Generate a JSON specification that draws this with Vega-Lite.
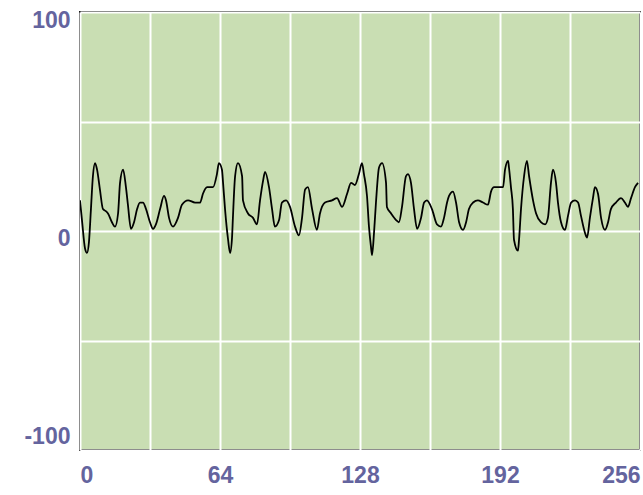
{
  "$schema": "https://vega.github.io/schema/vega-lite/v6.json",
  "width": 560,
  "height": 438,
  "autosize": "none",
  "padding": {"left": 80, "top": 12, "right": 3, "bottom": 45},
  "background": "white",
  "config": {
    "view": {"fill": "#c9deb3", "stroke": "#1a1a1a", "strokeWidth": 2},
    "axis": {
      "grid": true,
      "gridColor": "white",
      "gridWidth": 2,
      "gridOpacity": 1,
      "domain": false,
      "ticks": false,
      "labelFont": "Liberation Sans",
      "labelFontWeight": "bold",
      "labelFontSize": 23,
      "labelColor": "#64649e",
      "title": null
    }
  },
  "data": {
    "values": [
      {"x": 0, "y": 14}, {"x": 0.9, "y": 5}, {"x": 2.3, "y": -8}, {"x": 3.2, "y": -10}, {"x": 4.1, "y": -5},
      {"x": 5.0, "y": 10}, {"x": 5.9, "y": 25}, {"x": 6.9, "y": 31}, {"x": 7.8, "y": 28}, {"x": 9.1, "y": 19},
      {"x": 10.5, "y": 10}, {"x": 11.9, "y": 9}, {"x": 12.8, "y": 8}, {"x": 14.6, "y": 4}, {"x": 16.0, "y": 2},
      {"x": 17.4, "y": 8}, {"x": 18.3, "y": 22}, {"x": 19.7, "y": 28}, {"x": 21.0, "y": 20}, {"x": 21.9, "y": 12},
      {"x": 23.3, "y": 1}, {"x": 24.7, "y": 4}, {"x": 26.1, "y": 10}, {"x": 27.4, "y": 13}, {"x": 28.8, "y": 13},
      {"x": 30.2, "y": 10}, {"x": 32.0, "y": 4}, {"x": 33.4, "y": 1}, {"x": 34.7, "y": 3}, {"x": 36.6, "y": 10},
      {"x": 38.4, "y": 16}, {"x": 39.3, "y": 14}, {"x": 40.7, "y": 6}, {"x": 42.5, "y": 2}, {"x": 44.8, "y": 6},
      {"x": 46.6, "y": 12}, {"x": 49.4, "y": 14}, {"x": 52.6, "y": 13}, {"x": 54.9, "y": 13}, {"x": 56.2, "y": 17},
      {"x": 58.1, "y": 20}, {"x": 60.8, "y": 20}, {"x": 62.6, "y": 26}, {"x": 63.5, "y": 31}, {"x": 64.9, "y": 28},
      {"x": 65.4, "y": 22}, {"x": 66.3, "y": 10}, {"x": 67.7, "y": -4}, {"x": 68.6, "y": -10}, {"x": 69.5, "y": -3},
      {"x": 69.9, "y": 6}, {"x": 70.9, "y": 25}, {"x": 72.2, "y": 31}, {"x": 74.1, "y": 25}, {"x": 74.5, "y": 14},
      {"x": 76.8, "y": 8}, {"x": 79.1, "y": 6}, {"x": 80.9, "y": 3}, {"x": 82.3, "y": 14}, {"x": 83.7, "y": 23},
      {"x": 84.6, "y": 27}, {"x": 86.4, "y": 20}, {"x": 87.8, "y": 10}, {"x": 89.1, "y": 2}, {"x": 91.0, "y": 5},
      {"x": 92.3, "y": 13}, {"x": 94.2, "y": 14}, {"x": 96.0, "y": 11}, {"x": 98.3, "y": 2}, {"x": 100.1, "y": -2},
      {"x": 101.5, "y": 6}, {"x": 102.9, "y": 19}, {"x": 104.2, "y": 20}, {"x": 106.1, "y": 10}, {"x": 108.3, "y": 0.5},
      {"x": 109.7, "y": 8}, {"x": 112.0, "y": 13}, {"x": 115.2, "y": 14}, {"x": 117.5, "y": 15}, {"x": 119.8, "y": 11},
      {"x": 122.1, "y": 17}, {"x": 123.9, "y": 22}, {"x": 125.7, "y": 21}, {"x": 127.5, "y": 26}, {"x": 128.9, "y": 31},
      {"x": 129.8, "y": 26}, {"x": 131.2, "y": 16}, {"x": 132.1, "y": 2}, {"x": 133.0, "y": -7}, {"x": 133.5, "y": -11},
      {"x": 134.4, "y": -1}, {"x": 135.3, "y": 13}, {"x": 136.7, "y": 29}, {"x": 138.1, "y": 31}, {"x": 139.9, "y": 22},
      {"x": 140.3, "y": 11}, {"x": 142.2, "y": 8}, {"x": 144.5, "y": 5}, {"x": 145.8, "y": 4}, {"x": 147.2, "y": 11},
      {"x": 149.0, "y": 25}, {"x": 149.9, "y": 26}, {"x": 151.3, "y": 22}, {"x": 152.7, "y": 10}, {"x": 154.1, "y": 1},
      {"x": 155.9, "y": 6}, {"x": 157.3, "y": 13}, {"x": 158.6, "y": 14}, {"x": 160.9, "y": 10}, {"x": 163.2, "y": 3},
      {"x": 165.0, "y": 2}, {"x": 166.4, "y": 6}, {"x": 167.8, "y": 13}, {"x": 168.7, "y": 16}, {"x": 170.5, "y": 18},
      {"x": 171.9, "y": 13}, {"x": 173.3, "y": 4}, {"x": 175.1, "y": 0.5}, {"x": 176.5, "y": 4}, {"x": 177.8, "y": 10},
      {"x": 179.7, "y": 13}, {"x": 181.9, "y": 14}, {"x": 184.2, "y": 13}, {"x": 186.5, "y": 12}, {"x": 187.9, "y": 18},
      {"x": 189.3, "y": 20}, {"x": 193.4, "y": 20}, {"x": 194.3, "y": 28}, {"x": 195.7, "y": 32}, {"x": 196.1, "y": 29},
      {"x": 197.0, "y": 20}, {"x": 197.9, "y": 10}, {"x": 198.4, "y": -4}, {"x": 200.2, "y": -9}, {"x": 200.7, "y": -4},
      {"x": 201.6, "y": 10}, {"x": 203.0, "y": 25}, {"x": 204.3, "y": 32}, {"x": 205.3, "y": 25}, {"x": 207.1, "y": 14},
      {"x": 208.5, "y": 8}, {"x": 210.7, "y": 4}, {"x": 212.6, "y": 3}, {"x": 213.9, "y": 6}, {"x": 215.3, "y": 22},
      {"x": 216.2, "y": 28}, {"x": 217.6, "y": 22}, {"x": 218.5, "y": 13}, {"x": 219.9, "y": 4}, {"x": 221.7, "y": 0.5},
      {"x": 223.1, "y": 7}, {"x": 224.5, "y": 13}, {"x": 226.3, "y": 14}, {"x": 227.7, "y": 13}, {"x": 229.0, "y": 7},
      {"x": 230.9, "y": -1}, {"x": 231.8, "y": -3}, {"x": 233.1, "y": 6}, {"x": 234.5, "y": 15}, {"x": 235.4, "y": 20},
      {"x": 236.8, "y": 17}, {"x": 238.2, "y": 6}, {"x": 240.0, "y": 0.5}, {"x": 241.4, "y": 4}, {"x": 242.7, "y": 10},
      {"x": 245.0, "y": 13}, {"x": 247.3, "y": 15}, {"x": 249.1, "y": 13}, {"x": 250.5, "y": 11}, {"x": 251.9, "y": 15},
      {"x": 253.7, "y": 20}, {"x": 255.1, "y": 22}
    ]
  },
  "mark": {"type": "line", "color": "black", "strokeWidth": 1.8, "clip": true, "interpolate": "monotone"},
  "encoding": {
    "x": {
      "field": "x",
      "type": "quantitative",
      "scale": {"domain": [0, 256], "nice": false, "zero": false},
      "axis": {
        "values": [0, 32, 64, 96, 128, 160, 192, 224, 256],
        "labelExpr": "datum.value % 64 == 0 ? datum.label : ''",
        "labelFlush": true,
        "labelPadding": 14
      }
    },
    "y": {
      "field": "y",
      "type": "quantitative",
      "scale": {"domain": [-100, 100], "nice": false},
      "axis": {
        "values": [-100, -50, 0, 50, 100],
        "labelExpr": "datum.value == -100 ? '-100' : datum.value % 100 == 0 ? datum.label : ''",
        "labelPadding": 10,
        "labelBaseline": "middle",
        "labelOffset": {"condition": [{"test": "datum.value == -100", "value": -14}, {"test": "datum.value == 100", "value": 8}], "value": 7}
      }
    }
  }
}
